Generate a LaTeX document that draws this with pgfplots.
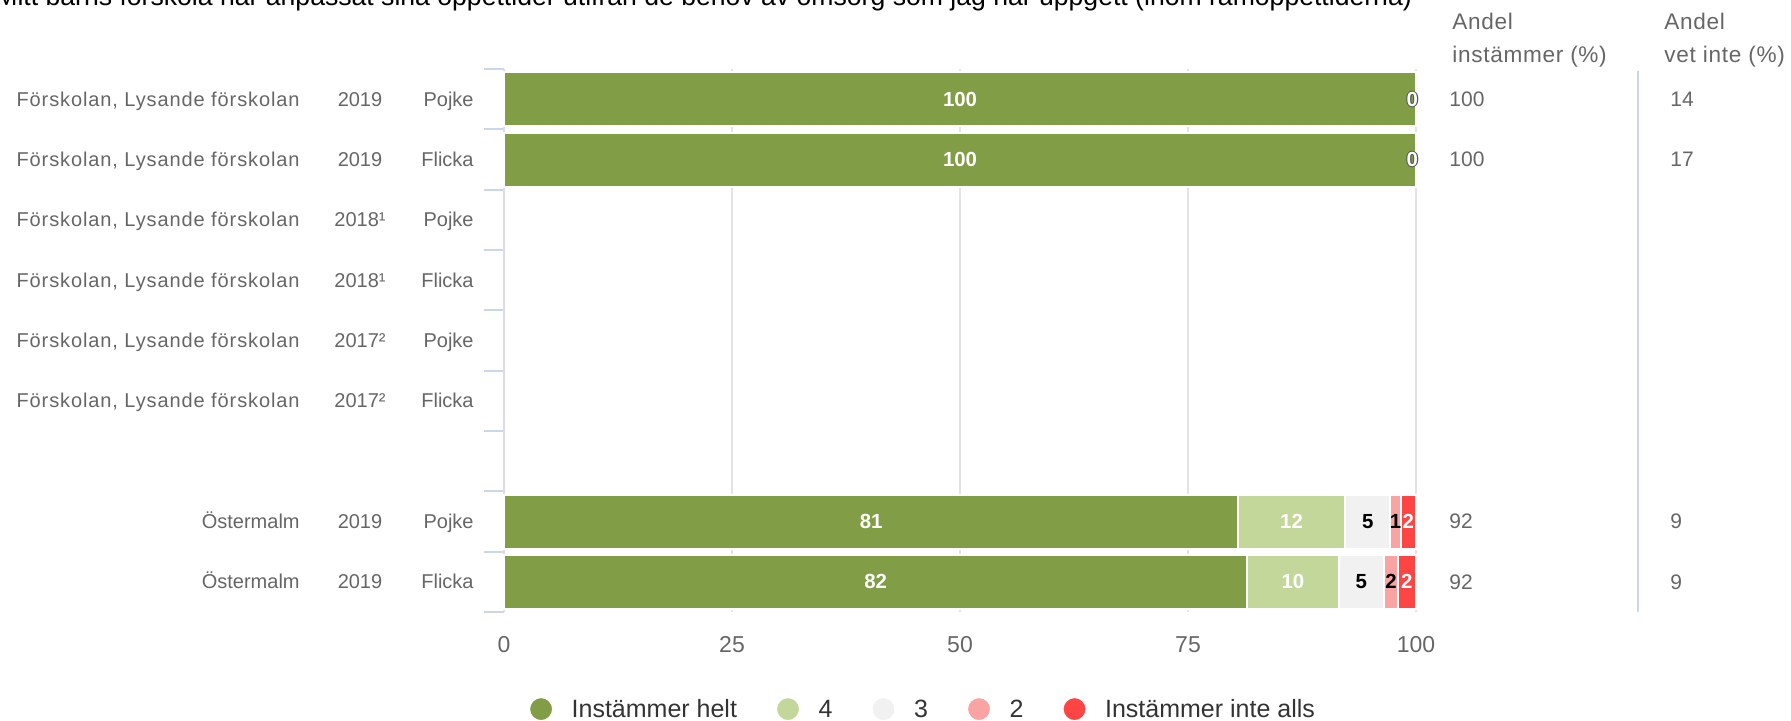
\documentclass[border=0pt]{standalone}
\usepackage{fontspec}
\setmainfont{Liberation Sans}
\usepackage{pgfplots}
\usepackage{pgfplotstable}
\pgfplotsset{compat=1.18}
\definecolor{cA}{HTML}{819D45}
\definecolor{cB}{HTML}{C4D79B}
\definecolor{cC}{HTML}{F1F1F1}
\definecolor{cD}{HTML}{F9A3A3}
\definecolor{cE}{HTML}{FF4444}
\definecolor{labgray}{HTML}{666666}
\definecolor{gridgray}{HTML}{E3E3E3}
\definecolor{axisblue}{HTML}{CCD6EB}
\definecolor{yaxisgray}{HTML}{DADDE3}
\definecolor{legtext}{HTML}{333333}
\definecolor{olgray}{HTML}{555555}
\newcommand\lab{\fontsize{10pt}{12pt}\selectfont}
\newcommand\valfont{\fontsize{10.5pt}{12pt}\selectfont}
\newcommand\headfont{\fontsize{11.3pt}{13pt}\selectfont\addfontfeature{LetterSpace=3}}
\newcommand\tickfont{\fontsize{11.5pt}{13pt}\selectfont}
\newcommand\legfont{\fontsize{12.5pt}{15pt}\selectfont}
\newcommand\titlefont{\fontsize{13.3pt}{16pt}\selectfont}
\newcommand\dl{\fontsize{10.2pt}{12pt}\selectfont\bfseries}
\newcommand\lys{{\addfontfeature{LetterSpace=4.5}Förskolan, Lysande förskolan}}
\newcommand\outlined[1]{\leavevmode\rlap{\kern-0.55pt\textcolor{olgray}{#1}}\rlap{\kern0.55pt\textcolor{olgray}{#1}}\rlap{\raisebox{0.55pt}{\textcolor{olgray}{#1}}}\rlap{\raisebox{-0.55pt}{\textcolor{olgray}{#1}}}\textcolor{white}{#1}}

\pgfplotstableread{
y a b c d e
0 100 0 0 0 0
1 100 0 0 0 0
7 80.5 11.7 5.0 1.1 1.7
8 81.5 10.0 5.0 1.5 2.0
}\bars
\pgfplotstableread{
x y l
50 0 100
50 1 100
40.25 7 81
86.35 7 12
99.15 7 2
40.75 8 82
86.5 8 10
99.0 8 2
}\wlabels
\pgfplotstableread{
x y l
94.7 7 5
97.75 7 1
94.0 8 5
97.25 8 2
}\blabels
\pgfplotstableread{
x y l
99.6 0 0
99.6 1 0
}\zlabels

\begin{document}
\begin{tikzpicture}
\path[use as bounding box] (0pt,0pt) rectangle (895.5pt,-360.5pt);

\begin{axis}[
  at={(252pt,-306pt)}, anchor=south west,
  scale only axis, width=456pt, height=271.5pt,
  xbar stacked, bar width=0.895,
  xmin=0, xmax=100, ymin=-0.5, ymax=8.5, y dir=reverse,
  clip=false,
  axis x line*=bottom, axis y line*=left,
  x axis line style={draw=none},
  y axis line style={draw=yaxisgray, line width=1pt, -},
  xtick={0,25,50,75,100}, xticklabels={0,25,50,75,100},
  ytick={-0.5,0.5,...,8.5}, yticklabels={},
  tick align=outside, major tick length=10pt,
  x tick style={draw=none},
  y tick style={draw=axisblue, line width=1pt},
  xmajorgrids, ymajorgrids=false,
  grid style={draw=gridgray, line width=0.8pt},
  /pgf/number format/assume math mode=true,
  xticklabel style={font=\tickfont, text=labgray, yshift=1.2pt},
  legend style={at={(0.4578,-0.181)}, anchor=center, draw=none, fill=none,
    legend columns=-1, font=\legfont, text=legtext,
    nodes={inner xsep=0pt},
    /tikz/every odd column/.append style={column sep=8.8pt},
    /tikz/every even column/.append style={column sep=19pt}},
  legend image code/.code={\fill (6pt,0.6pt) circle (6pt);},
]
\addplot[fill=cA, draw=white, line width=1pt] table[x=a,y=y]{\bars};
\addlegendentry{Instämmer helt}
\addplot[fill=cB, draw=white, line width=1pt] table[x=b,y=y]{\bars};
\addlegendentry{4}
\addplot[fill=cC, draw=white, line width=1pt] table[x=c,y=y]{\bars};
\addlegendentry{3}
\addplot[fill=cD, draw=white, line width=1pt] table[x=d,y=y]{\bars};
\addlegendentry{2}
\addplot[fill=cE, draw=white, line width=1pt] table[x=e,y=y]{\bars};
\addlegendentry{Instämmer inte alls}
\end{axis}

\begin{axis}[
  at={(252pt,-306pt)}, anchor=south west,
  scale only axis, width=456pt, height=271.5pt,
  xmin=0, xmax=100, ymin=-0.5, ymax=8.5, y dir=reverse,
  hide axis, clip=false,
]
\addplot[draw=none, nodes near coords, point meta=explicit symbolic,
  nodes near coords align=center,
  every node near coord/.append style={anchor=center, font=\dl, text=white}]
  table[x=x,y=y,meta=l]{\wlabels};
\addplot[draw=none, nodes near coords, point meta=explicit symbolic,
  nodes near coords align=center,
  every node near coord/.append style={anchor=center, font=\dl, text=black}]
  table[x=x,y=y,meta=l]{\blabels};
\addplot[draw=none, nodes near coords={\outlined{0}},
  nodes near coords align=center,
  every node near coord/.append style={anchor=center, font=\dl}]
  table[x=x,y=y]{\zlabels};
\end{axis}

\begin{scope}[x=0.5pt,y=-0.5pt]
% title (cut off at the top as in the reference)
\node[anchor=base west, inner sep=0pt, font=\titlefont, text=black] at (-5,5.5)
  {Mitt barns förskola har anpassat sina öppettider utifrån de behov av omsorg som jag har uppgett (inom ramöppettiderna)};
\begin{scope}[every node/.style={font=\lab, text=labgray, inner sep=0pt}]
\node[anchor=base east] at (300,106.2) {\lys};
\node[anchor=base east] at (300,166.5) {\lys};
\node[anchor=base east] at (300,226.8) {\lys};
\node[anchor=base east] at (300,287.2) {\lys};
\node[anchor=base east] at (300,347.5) {\lys};
\node[anchor=base east] at (300,407.8) {\lys};
\node[anchor=base east] at (300,528.5) {Östermalm};
\node[anchor=base east] at (300,588.8) {Östermalm};
\node[anchor=base] at (360,106.2) {2019};
\node[anchor=base] at (360,166.5) {2019};
\node[anchor=base] at (360,226.8) {2018¹};
\node[anchor=base] at (360,287.2) {2018¹};
\node[anchor=base] at (360,347.5) {2017²};
\node[anchor=base] at (360,407.8) {2017²};
\node[anchor=base] at (360,528.5) {2019};
\node[anchor=base] at (360,588.8) {2019};
\node[anchor=base east] at (474,106.2) {Pojke};
\node[anchor=base east] at (474,166.5) {Flicka};
\node[anchor=base east] at (474,226.8) {Pojke};
\node[anchor=base east] at (474,287.2) {Flicka};
\node[anchor=base east] at (474,347.5) {Pojke};
\node[anchor=base east] at (474,407.8) {Flicka};
\node[anchor=base east] at (474,528.5) {Pojke};
\node[anchor=base east] at (474,588.8) {Flicka};
\node[anchor=base west, font=\headfont] at (1452,30) {Andel};
\node[anchor=base west, font=\headfont] at (1452,63) {instämmer (\%)};
\node[anchor=base west, font=\headfont] at (1664,30) {Andel};
\node[anchor=base west, font=\headfont] at (1664,63) {vet inte (\%)};
\node[anchor=base west, font=\valfont] at (1449,106.5) {100};
\node[anchor=base west, font=\valfont] at (1449,166.8) {100};
\node[anchor=base west, font=\valfont] at (1449,528.8) {92};
\node[anchor=base west, font=\valfont] at (1449,589.1) {92};
\node[anchor=base west, font=\valfont] at (1670,106.5) {14};
\node[anchor=base west, font=\valfont] at (1670,166.8) {17};
\node[anchor=base west, font=\valfont] at (1670,528.8) {9};
\node[anchor=base west, font=\valfont] at (1670,589.1) {9};
\end{scope}
\draw[axisblue, line width=1.3pt] (1638,71) -- (1638,612);
\end{scope}
\end{tikzpicture}
\end{document}
